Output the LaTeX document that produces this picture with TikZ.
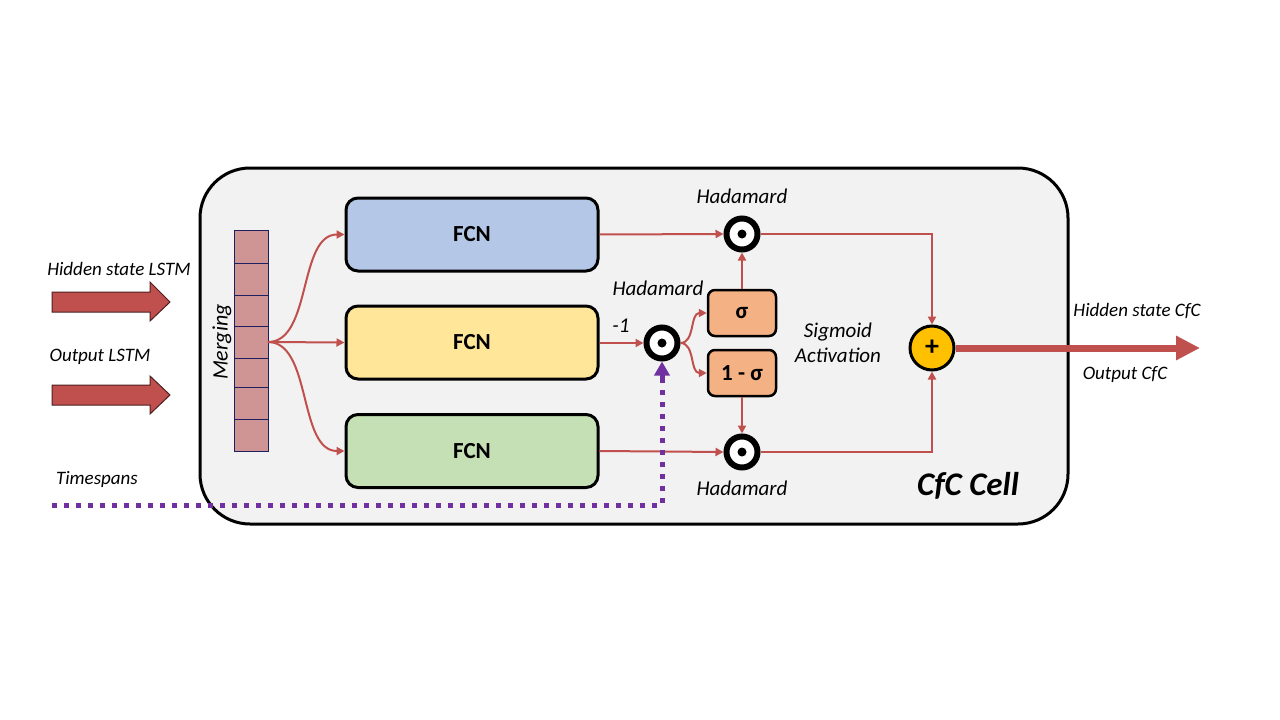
\documentclass[tikz,border=0pt]{standalone}
\usepackage{fontspec}
\setmainfont{Carlito}
\usetikzlibrary{arrows.meta,calc}
\definecolor{cred}{HTML}{C0504D}
\definecolor{cblue}{HTML}{B4C7E7}
\definecolor{cyel}{HTML}{FFE699}
\definecolor{cgreen}{HTML}{C5E0B4}
\definecolor{corange}{HTML}{F4B183}
\definecolor{cgold}{HTML}{FFC000}
\definecolor{cpurple}{HTML}{7030A0}
\definecolor{cmerge}{HTML}{CF9595}
\definecolor{cnavy}{HTML}{1F1F5F}
\definecolor{cbg}{HTML}{F2F2F2}
\tikzset{
  fcn/.style={draw=black, line width=3pt, rounded corners=12pt, minimum width=252pt, minimum height=73pt, font=\fontsize{23}{26}\selectfont\bfseries, inner sep=0pt},
  sig/.style={draw=black, line width=2.5pt, fill=corange, rounded corners=7pt, minimum width=68pt, minimum height=46pt, font=\fontsize{23}{26}\selectfont\bfseries, inner sep=0pt},
  had/.style={circle, draw=black, fill=white, line width=6pt, minimum size=31pt, inner sep=0pt},
  lab/.style={font=\fontsize{19}{22}\selectfont\itshape, inner sep=0pt},
  ilab/.style={font=\fontsize{21}{25}\selectfont\itshape, inner sep=0pt},
  redline/.style={draw=cred, line width=2pt, -{Triangle[length=8pt,width=8pt]}},
  cell/.style={draw=cnavy, line width=1pt, fill=cmerge},
  blockarrow/.style={draw=black!60!cred, line width=1pt, fill=cred}
}
\begin{document}
\begin{tikzpicture}[x=1pt,y=-1pt]
\useasboundingbox (0,0) rectangle (1280,720);
\fill[white] (0,0) rectangle (1280,720);
% main cell
\draw[line width=3pt, fill=cbg, rounded corners=50pt] (200,168) rectangle (1068,524);
% merging bar
\foreach \a/\b in {230/263,263/295,295/326,326/358,358/387,387/419,419/451}
  \draw[cell] (234,\a) rectangle (268,\b);
\node[font=\fontsize{22}{25}\selectfont\itshape, inner sep=0pt, rotate=90] (merg) at (222,342) {Merging};
\coordinate (br) at (268,342);
% FCN boxes
\node[fcn, fill=cblue] (f1) at (472,234.5) {FCN};
\node[fcn, fill=cyel] (f2) at (472,342.5) {FCN};
\node[fcn, fill=cgreen] (f3) at (472,451) {FCN};
% branch curves
\draw[redline] (br) .. controls (312,342) and (298,234.5) .. (f1.west);
\draw[redline] (br) -- (f2.west);
\draw[redline] (br) .. controls (312,342) and (298,451) .. (f3.west);
% hadamard circles
\node[had] (h1) at (742,234) {};
\node[had] (h2) at (662,343) {};
\node[had] (h3) at (742,452) {};
\foreach \h in {h1,h2,h3} \fill[black] (\h) circle (4.5pt);
% sigma boxes
\node[sig] (s1) at (742,313) {σ};
\node[sig] (s2) at (742,373) {1 - σ};
% plus
\node[circle, draw=black, line width=3pt, fill=cgold, minimum size=44pt, inner sep=0pt, font=\fontsize{28}{28}\selectfont\bfseries] (pl) at (932,348) {+};
% connections
\draw[redline] (f1.east) -- (h1.west);
\draw[redline] (f3.east) -- (h3.west);
\draw[redline] (f2.east |- h2) -- (h2.west);
\draw[redline] (h1.east) -| (pl.north);
\draw[redline] (h3.east) -| (pl.south);
\draw[redline] (s1.north) -- (h1.south);
\draw[redline] (s2.south) -- (h3.north);
\draw[redline] (h2.east) .. controls (695,343) and (690,313) .. (s1.west);
\draw[redline] (h2.east) .. controls (695,343) and (690,373) .. (s2.west);
% output arrow
\coordinate (outend) at (1200,348);
\draw[cred, line width=7pt, -{Triangle[length=24pt,width=23pt]}] (pl.east) -- (outend);
% timespans
\coordinate (ts) at (52,505);
\coordinate (tsc) at (662,505);
\coordinate (tsa) at (662,378);
\draw[cpurple, line width=5pt, dash pattern=on 5pt off 7pt] (ts) -- (tsc) -- (tsa);
\draw[cpurple, line width=5pt, -{Triangle[length=14pt,width=15pt]}] (tsa) -- (h2.south);
% input block arrows
\draw[blockarrow] (52,292) -- (150,292) -- (150,282) -- (170,302) -- (150,321) -- (150,312) -- (52,312) -- cycle;
\draw[blockarrow] (52,385) -- (150,385) -- (150,376) -- (170,395) -- (150,414) -- (150,405) -- (52,405) -- cycle;
% labels
\node[lab] (lhs) at (119,269) {Hidden state LSTM};
\node[lab] (lol) at (100,357) {Output LSTM};
\node[lab] (lts) at (97,479) {Timespans};
\node[ilab] (lh1) at (742,196) {Hadamard};
\node[ilab] (lh2) at (658,288) {Hadamard};
\node[ilab] (lh3) at (742,488) {Hadamard};
\node[ilab] (lm1) at (621,326) {-1};
\node[ilab, align=center] (lsa) at (838,343) {Sigmoid\\[0pt]Activation};
\node[lab] (lhc) at (1137,311) {Hidden state CfC};
\node[lab] (loc) at (1125,375) {Output CfC};
\node[font=\fontsize{33}{36}\selectfont\bfseries\itshape, inner sep=0pt] (lcell) at (968,486) {CfC Cell};
\end{tikzpicture}
\end{document}
